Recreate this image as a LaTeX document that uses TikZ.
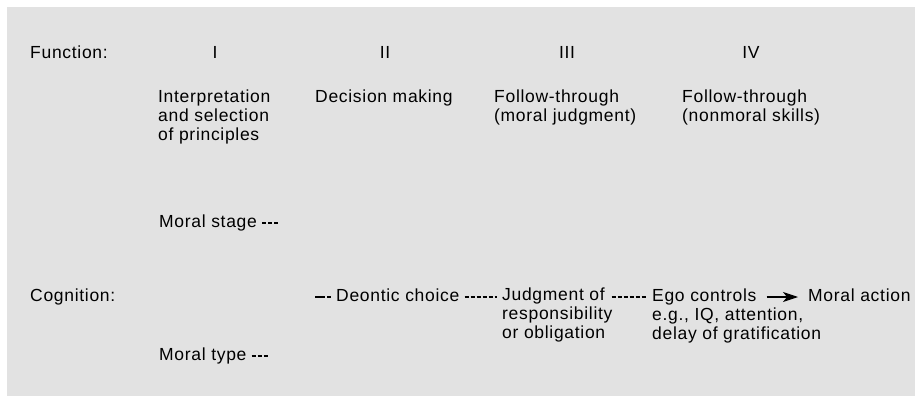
\documentclass[tikz,border=0pt]{standalone}
\usepackage{fontspec}
\setmainfont{Liberation Sans}[LetterSpace=4]
\usetikzlibrary{arrows.meta}
\definecolor{panel}{HTML}{E2E2E2}
\tikzset{
  txt/.style={inner sep=0pt, anchor=base west, align=left,
    font=\fontsize{17.5}{19}\selectfont},
  block/.style={txt, anchor=north west},
  numeral/.style={inner sep=0pt, anchor=base,
    font=\fontsize{17.5}{19}\selectfont},
  lead/.style={line width=1.5pt, dash pattern=on 4pt off 2pt},
  leadsto/.style={line width=1.1pt, -{Stealth[length=15pt,width=10pt,inset=4pt]}}
}

\begin{document}
\begin{tikzpicture}[x=1pt, y=-1pt]
\useasboundingbox (0,0) rectangle (915,396);
\fill[panel] (7,7) rectangle (915,396);

% row heads
\node[txt] (func) at (30,59) {Function:};
\node[txt] (cog) at (30,301) {Cognition:};

% functions
\node[numeral] (numI) at (215,59) {I};
\node[numeral] (numII) at (385,59) {II};
\node[numeral] (numIII) at (567,59) {III};
\node[numeral] (numIV) at (751,59) {IV};
\node[block] (interp) at (158,89.5) {Interpretation\\and selection\\of principles};
\node[txt] (decide) at (315,102) {Decision making};
\node[block] (followmoral) at (494,90) {Follow-through\\(moral judgment)};
\node[block] (follownon) at (682,90) {Follow-through\\(nonmoral skills)};

% stage and type
\node[txt] (stage) at (159,227) {Moral stage};
\node[txt] (type) at (159,360) {Moral type};
\coordinate (stagetail) at ([shift={(22pt,4pt)}]stage.base east);
\coordinate (typetail) at ([shift={(22pt,4pt)}]type.base east);
\draw[lead] ([shift={(5pt,4pt)}]stage.base east) -- (stagetail);
\draw[lead] ([shift={(5pt,4pt)}]type.base east) -- (typetail);

% cognition row
\node[txt] (deontic) at (336,301) {Deontic choice};
\node[block] (judge) at (502,288) {Judgment of\\responsibility\\or obligation};
\node[txt] (ego) at (652,301) {Ego controls};
\node[block] (egonote) at (652,308) {e.g., IQ, attention,\\delay of gratification};
\node[txt] (action) at (808,301) {Moral action};
\coordinate (deonticlead) at ([shift={(-21pt,4pt)}]deontic.base west);
\draw[line width=1.5pt, dash pattern=on 10pt off 2pt on 4pt off 20pt]
  (deonticlead) -- ([shift={(-5pt,4pt)}]deontic.base west);
\draw[lead] ([shift={(5pt,4pt)}]deontic.base east) -- ([shift={(-5pt,-9pt)}]judge.north west);
\draw[lead] ([shift={(-1pt,-9pt)}]judge.north east) -- ([shift={(-5pt,4pt)}]ego.base west);
\draw[leadsto] ([shift={(10pt,4pt)}]ego.base east) -- ([shift={(-10pt,4pt)}]action.base west);
\end{tikzpicture}
\end{document}
